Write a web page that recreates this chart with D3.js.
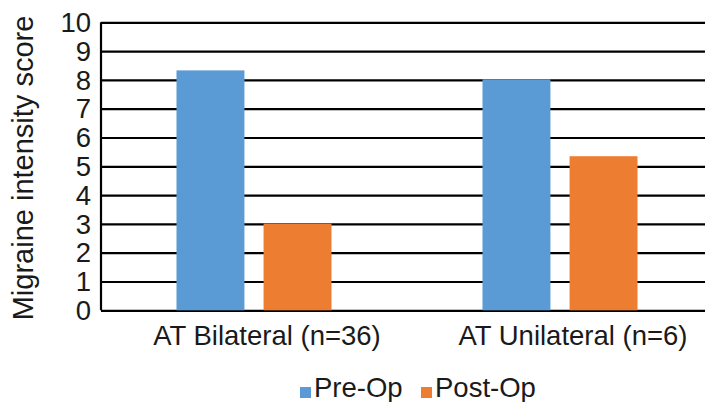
<!DOCTYPE html>
<html>
<head>
<meta charset="utf-8">
<script src="https://cdn.jsdelivr.net/npm/d3@7"></script>
<style>
html,body{margin:0;padding:0;background:#fff;}
svg{display:block;font-family:"Liberation Sans",Arial,sans-serif;}
</style>
</head>
<body>
<svg id="chart" width="705" height="402"></svg>
<script>
const categories = ["AT Bilateral (n=36)", "AT Unilateral (n=6)"];
const seriesNames = ["Pre-Op", "Post-Op"];
const preOp = [8.33, 8.02];
const postOp = [3.01, 5.35];
const yTicks = [0,1,2,3,4,5,6,7,8,9,10];
const colors = ["#5B9BD5", "#ED7D31"];

const data = categories.map((c,i) => ({cat:c, values:[preOp[i], postOp[i]]}));

const svg = d3.select("#chart");
const x0 = d3.scaleBand().domain(categories).range([101, 713]);
const x1 = d3.scaleBand().domain(seriesNames).range([75.5, 230.5]).paddingInner(0.22);
const y = d3.scaleLinear().domain([0, 10]).range([310.3, 22.3]);

// gridlines
svg.append("g")
  .attr("transform","translate(101,0)")
  .call(d3.axisLeft(y).tickValues(yTicks).tickSize(-620).tickFormat(""))
  .call(g => g.select(".domain").remove())
  .selectAll("line").attr("stroke","#000").attr("stroke-width",2.2);

// bars
const groups = svg.append("g").selectAll("g").data(data).join("g")
  .attr("transform", d => `translate(${x0(d.cat)},0)`);
groups.selectAll("rect").data(d => d.values.map((v,j)=>({s:seriesNames[j], v, j})))
  .join("rect")
  .attr("x", d => x1(d.s))
  .attr("width", x1.bandwidth())
  .attr("y", d => y(d.v))
  .attr("height", d => y(0) - y(d.v))
  .attr("fill", d => colors[d.j]);

// left axis line
svg.append("line").attr("x1",101).attr("x2",101).attr("y1",y(10)).attr("y2",y(0))
  .attr("stroke","#000").attr("stroke-width",2.2);

// y tick labels
svg.append("g").selectAll("text").data(yTicks).join("text")
  .attr("x", 91).attr("y", d => y(d)).attr("dy","0.35em")
  .attr("text-anchor","end").attr("font-size",27.5).attr("fill","#1a1a1a")
  .text(d => d);

// x labels
svg.append("g").selectAll("text").data(categories).join("text")
  .attr("x", d => x0(d) + x0.bandwidth()/2 + 13).attr("y", 345)
  .attr("text-anchor","middle").attr("font-size",27.5).attr("fill","#1a1a1a")
  .text(d => d);

// y title
svg.append("text")
  .attr("transform","translate(33,168) rotate(-90)")
  .attr("text-anchor","middle").attr("font-size",29).attr("fill","#1a1a1a")
  .text("Migraine intensity score");

// legend
const legX = [300, 421];
const leg = svg.append("g").selectAll("g").data(seriesNames).join("g")
  .attr("transform",(d,i)=>`translate(${legX[i]},0)`);
leg.append("rect").attr("x",0).attr("y",387).attr("width",11).attr("height",11)
  .attr("fill",(d,i)=>colors[i]);
leg.append("text").attr("x",14).attr("y",397).attr("font-size",27.5).attr("fill","#1a1a1a")
  .text(d=>d);
</script>
</body>
</html>
